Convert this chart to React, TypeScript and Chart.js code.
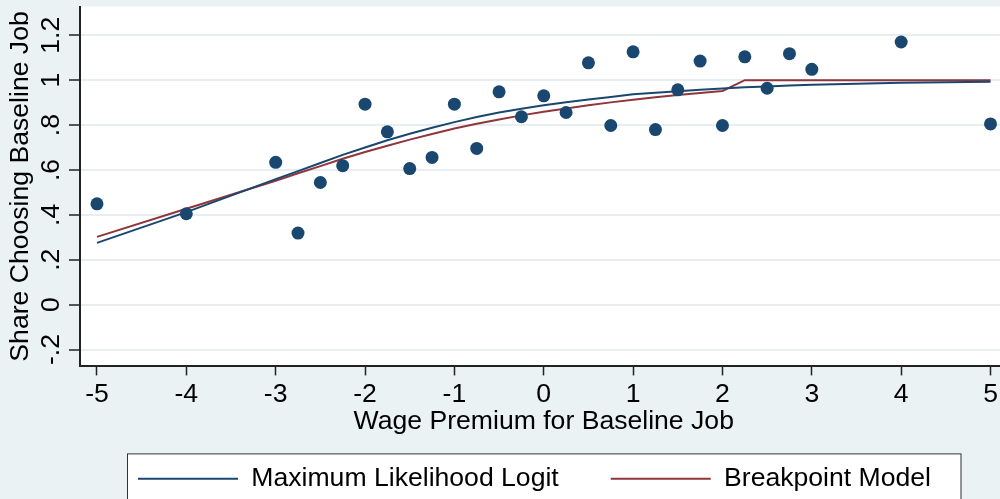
import React, { useEffect, useRef } from "react";
import { Chart, registerables } from "chart.js";

Chart.register(...registerables);

// ---- data ----
const wagePremium = [-5, -4, -3, -2.75, -2.5, -2.25, -2, -1.75, -1.5, -1.25, -1, -0.75, -0.5, -0.25, 0, 0.25, 0.5, 0.75, 1, 1.25, 1.5, 1.75, 2, 2.25, 2.5, 2.75, 3, 4, 5];
const shareChoosing = [0.449, 0.405, 0.634, 0.319, 0.544, 0.619, 0.893, 0.770, 0.606, 0.656, 0.893, 0.696, 0.948, 0.837, 0.930, 0.856, 1.077, 0.798, 1.126, 0.780, 0.957, 1.085, 0.798, 1.104, 0.964, 1.118, 1.048, 1.170, 0.805];
const logitFit = [0.275, 0.412, 0.559, 0.595, 0.631, 0.667, 0.700, 0.732, 0.761, 0.788, 0.813, 0.836, 0.856, 0.873, 0.888, 0.902, 0.914, 0.925, 0.937, 0.944, 0.951, 0.957, 0.963, 0.968, 0.972, 0.976, 0.979, 0.988, 0.993];
const breakpointFit = [0.302, 0.427, 0.552, 0.585, 0.617, 0.650, 0.680, 0.708, 0.735, 0.760, 0.785, 0.806, 0.825, 0.843, 0.859, 0.874, 0.888, 0.901, 0.913, 0.924, 0.934, 0.943, 0.952, 1.0, 1.0, 1.0, 1.0, 1.0, 1.0];

const seriesNames = ["Maximum Likelihood Logit", "Breakpoint Model"];
const xTickValues = [-5, -4, -3, -2, -1, 0, 1, 2, 3, 4, 5];
const xTickLabels = ["-5", "-4", "-3", "-2", "-1", "0", "1", "2", "3", "4", "5"];
const yTickValues = [-0.2, 0, 0.2, 0.4, 0.6, 0.8, 1, 1.2];
const yTickLabels = ["-.2", "0", ".2", ".4", ".6", ".8", "1", "1.2"];
const xTitle = "Wage Premium for Baseline Job";
const yTitle = "Share Choosing Baseline Job";

// ---- styles ----
const NAVY = "#1a476f";
const MAROON = "#90353b";
const BG = "#eaf2f3";
const GRID = "#e6eef1";
const AXIS = "#222222";
const FAMILY = "'Liberation Sans', Arial, Helvetica, sans-serif";
const FS = 26.6;
const LEGEND_GAP = 52;

export default function App() {
  const ref = useRef<HTMLCanvasElement>(null);

  useEffect(() => {
    const canvas = ref.current;
    if (!canvas) return;

    const stataPlugin = {
      id: "stataLook",
      afterLayout(chart: any) {
        const lg = chart.legend;
        const a = chart.chartArea;
        if (!lg || !lg.lineWidths) return;
        const L = lg.lineWidths[0];
        const start = a.left + 58;
        const S = 2 * start - LEGEND_GAP + L;
        const h = lg.height;
        lg.left = 0;
        lg.right = S;
        lg.width = S;
        lg.top = a.bottom + 47;
        lg.bottom = lg.top + h;
      },
      beforeDraw(chart: any) {
        const { ctx, chartArea: a, width, height } = chart;
        ctx.save();
        ctx.fillStyle = BG;
        ctx.fillRect(0, 0, width, height);
        ctx.fillStyle = "#ffffff";
        ctx.fillRect(a.left, a.top, a.right - a.left, a.bottom - a.top);
        const lg = chart.legend;
        if (lg) {
          const left = a.left + 47;
          const right = a.right - 47;
          const top = a.bottom + 87;
          ctx.fillStyle = "#ffffff";
          ctx.fillRect(left, top, right - left, height - top + 20);
          ctx.strokeStyle = "#333333";
          ctx.lineWidth = 1;
          ctx.strokeRect(left + 0.5, top + 0.5, right - left, height - top + 20);
        }
        ctx.restore();
      },
    };

    const pts = (ys: number[]) => wagePremium.map((x, i) => ({ x, y: ys[i] }));

    const chart = new Chart(canvas, {
      type: "scatter",
      data: {
        datasets: [
          {
            label: "Share",
            data: pts(shareChoosing),
            backgroundColor: NAVY,
            borderColor: NAVY,
            borderWidth: 0,
            pointRadius: 6.5,
            pointHoverRadius: 6.5,
            showLine: false,
          },
          {
            label: seriesNames[0],
            data: pts(logitFit),
            showLine: true,
            borderColor: NAVY,
            backgroundColor: NAVY,
            borderWidth: 2,
            pointRadius: 0,
            pointHoverRadius: 0,
            tension: 0,
          },
          {
            label: seriesNames[1],
            data: pts(breakpointFit),
            showLine: true,
            borderColor: MAROON,
            backgroundColor: MAROON,
            borderWidth: 2,
            pointRadius: 0,
            pointHoverRadius: 0,
            tension: 0,
          },
        ],
      } as any,
      options: {
        animation: false,
        responsive: false,
        devicePixelRatio: 1,
        layout: { padding: { top: 4, right: 0, left: 0, bottom: -41 } },
        scales: {
          x: {
            type: "linear",
            position: "bottom",
            min: -5.19,
            max: 5.19,
            afterBuildTicks: (s: any) => {
              s.ticks = xTickValues.map((v) => ({ value: v }));
            },
            afterFit: (s: any) => {
              s.height = 85;
              s.paddingLeft = 0;
              s.paddingRight = 0;
            },
            ticks: {
              callback: (_v: any, i: number) => xTickLabels[i],
              font: { family: FAMILY, size: FS },
              color: "#000",
              padding: 3,
              minRotation: 0,
              maxRotation: 0,
              autoSkip: false,
            },
            grid: {
              drawOnChartArea: false,
              drawTicks: true,
              tickLength: 9,
              tickColor: AXIS,
              tickWidth: 1.5,
            },
            border: { display: true, color: AXIS, width: 2 },
            title: {
              display: true,
              text: xTitle,
              font: { family: FAMILY, size: FS },
              color: "#000",
              padding: { top: 0, bottom: 14 },
            },
          },
          y: {
            type: "linear",
            min: -0.275,
            max: 1.328,
            afterBuildTicks: (s: any) => {
              s.ticks = yTickValues.map((v) => ({ value: v }));
            },
            afterFit: (s: any) => {
              s.width = 80;
              s.paddingTop = 0;
              s.paddingBottom = 0;
            },
            ticks: {
              callback: (_v: any, i: number) => yTickLabels[i],
              font: { family: FAMILY, size: FS },
              color: "#000",
              padding: -1,
              minRotation: 90,
              maxRotation: 90,
              crossAlign: "center",
              autoSkip: false,
            },
            grid: {
              color: GRID,
              lineWidth: 2,
              drawTicks: true,
              tickLength: 11,
              tickColor: AXIS,
              tickWidth: 1.5,
            },
            border: { display: true, color: AXIS, width: 2 },
            title: {
              display: true,
              text: yTitle,
              font: { family: FAMILY, size: FS },
              color: "#000",
              padding: { top: 5, bottom: 0 },
            },
          },
        },
        plugins: {
          legend: {
            display: true,
            position: "bottom",
            labels: {
              font: { family: FAMILY, size: FS },
              color: "#000",
              boxWidth: 100,
              boxHeight: 2,
              padding: LEGEND_GAP,
              generateLabels: (c: any) =>
                c.data.datasets
                  .map((ds: any, i: number) => ({
                    text: ds.label,
                    fillStyle: ds.borderColor,
                    strokeStyle: ds.borderColor,
                    lineWidth: 0,
                    hidden: false,
                    datasetIndex: i,
                    fontColor: "#000",
                  }))
                  .filter((it: any) => it.datasetIndex > 0),
            },
          },
          tooltip: { enabled: false },
        },
      } as any,
      plugins: [stataPlugin],
    });

    return () => chart.destroy();
  }, []);

  return (
    <div
      style={{
        position: "fixed",
        left: 0,
        top: 0,
        width: 1000,
        height: 499,
        overflow: "hidden",
        background: BG,
      }}
    >
      <canvas ref={ref} width={1014} height={499} style={{ display: "block" }} />
    </div>
  );
}
